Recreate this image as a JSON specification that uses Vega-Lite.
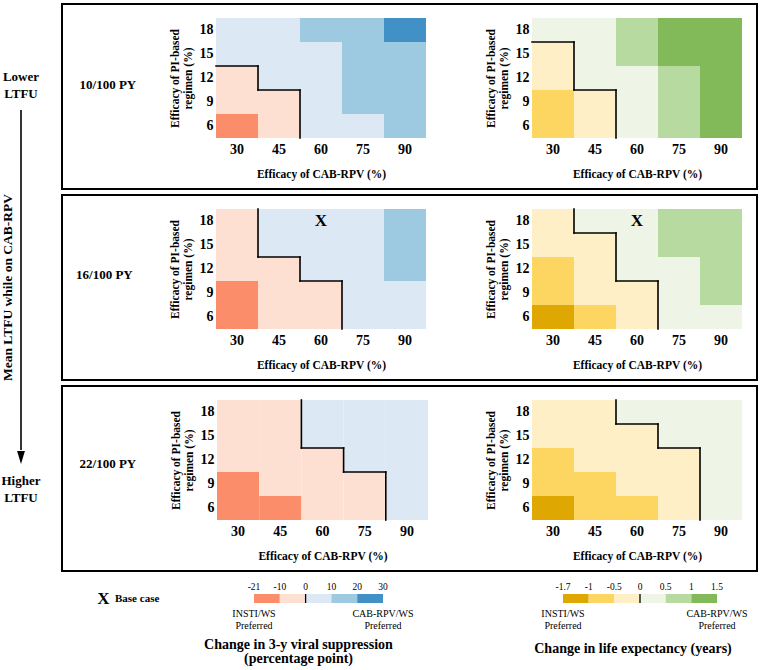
{
  "$schema": "https://vega.github.io/schema/vega-lite/v6.json",
  "padding": {"left": 0, "top": 3, "right": 0, "bottom": 0},
  "background": "white",
  "config": {
    "view": {"stroke": null},
    "font": "Liberation Serif",
    "axis": {"domain": false, "ticks": false, "grid": false, "labelFont": "Liberation Serif", "titleFont": "Liberation Serif", "labelFontWeight": "bold", "titleFontWeight": "bold", "labelColor": "black", "titleColor": "black", "labelFontSize": 14, "titleFontSize": 11.5, "labelAngle": 0, "labelOverlap": false, "labelFlush": false},
    "axisX": {"labelPadding": 4, "titlePadding": 12},
    "axisY": {"labelPadding": 3, "titlePadding": 6, "titleLineHeight": 13},
    "text": {"font": "Liberation Serif", "color": "black"},
    "title": {"font": "Liberation Serif", "color": "black"}
  },
  "datasets": {
    "cells": [
      {"ltfu":"10/100 PY","cab":30,"pi":18,"vs":"0 to 10","le":"0 to 0.5"},
      {"ltfu":"10/100 PY","cab":45,"pi":18,"vs":"0 to 10","le":"0 to 0.5"},
      {"ltfu":"10/100 PY","cab":60,"pi":18,"vs":"10 to 20","le":"0.5 to 1"},
      {"ltfu":"10/100 PY","cab":75,"pi":18,"vs":"10 to 20","le":"1 to 1.5"},
      {"ltfu":"10/100 PY","cab":90,"pi":18,"vs":"20 to 30","le":"1 to 1.5"},
      {"ltfu":"10/100 PY","cab":30,"pi":15,"vs":"0 to 10","le":"-0.5 to 0"},
      {"ltfu":"10/100 PY","cab":45,"pi":15,"vs":"0 to 10","le":"0 to 0.5"},
      {"ltfu":"10/100 PY","cab":60,"pi":15,"vs":"0 to 10","le":"0.5 to 1"},
      {"ltfu":"10/100 PY","cab":75,"pi":15,"vs":"10 to 20","le":"1 to 1.5"},
      {"ltfu":"10/100 PY","cab":90,"pi":15,"vs":"10 to 20","le":"1 to 1.5"},
      {"ltfu":"10/100 PY","cab":30,"pi":12,"vs":"-10 to 0","le":"-0.5 to 0"},
      {"ltfu":"10/100 PY","cab":45,"pi":12,"vs":"0 to 10","le":"0 to 0.5"},
      {"ltfu":"10/100 PY","cab":60,"pi":12,"vs":"0 to 10","le":"0 to 0.5"},
      {"ltfu":"10/100 PY","cab":75,"pi":12,"vs":"10 to 20","le":"0.5 to 1"},
      {"ltfu":"10/100 PY","cab":90,"pi":12,"vs":"10 to 20","le":"1 to 1.5"},
      {"ltfu":"10/100 PY","cab":30,"pi":9,"vs":"-10 to 0","le":"-1 to -0.5"},
      {"ltfu":"10/100 PY","cab":45,"pi":9,"vs":"-10 to 0","le":"-0.5 to 0"},
      {"ltfu":"10/100 PY","cab":60,"pi":9,"vs":"0 to 10","le":"0 to 0.5"},
      {"ltfu":"10/100 PY","cab":75,"pi":9,"vs":"10 to 20","le":"0.5 to 1"},
      {"ltfu":"10/100 PY","cab":90,"pi":9,"vs":"10 to 20","le":"1 to 1.5"},
      {"ltfu":"10/100 PY","cab":30,"pi":6,"vs":"-21 to -10","le":"-1 to -0.5"},
      {"ltfu":"10/100 PY","cab":45,"pi":6,"vs":"-10 to 0","le":"-0.5 to 0"},
      {"ltfu":"10/100 PY","cab":60,"pi":6,"vs":"0 to 10","le":"0 to 0.5"},
      {"ltfu":"10/100 PY","cab":75,"pi":6,"vs":"0 to 10","le":"0.5 to 1"},
      {"ltfu":"10/100 PY","cab":90,"pi":6,"vs":"10 to 20","le":"1 to 1.5"},

      {"ltfu":"16/100 PY","cab":30,"pi":18,"vs":"-10 to 0","le":"-0.5 to 0"},
      {"ltfu":"16/100 PY","cab":45,"pi":18,"vs":"0 to 10","le":"0 to 0.5"},
      {"ltfu":"16/100 PY","cab":60,"pi":18,"vs":"0 to 10","le":"0 to 0.5"},
      {"ltfu":"16/100 PY","cab":75,"pi":18,"vs":"0 to 10","le":"0.5 to 1"},
      {"ltfu":"16/100 PY","cab":90,"pi":18,"vs":"10 to 20","le":"0.5 to 1"},
      {"ltfu":"16/100 PY","cab":30,"pi":15,"vs":"-10 to 0","le":"-0.5 to 0"},
      {"ltfu":"16/100 PY","cab":45,"pi":15,"vs":"0 to 10","le":"-0.5 to 0"},
      {"ltfu":"16/100 PY","cab":60,"pi":15,"vs":"0 to 10","le":"0 to 0.5"},
      {"ltfu":"16/100 PY","cab":75,"pi":15,"vs":"0 to 10","le":"0.5 to 1"},
      {"ltfu":"16/100 PY","cab":90,"pi":15,"vs":"10 to 20","le":"0.5 to 1"},
      {"ltfu":"16/100 PY","cab":30,"pi":12,"vs":"-10 to 0","le":"-1 to -0.5"},
      {"ltfu":"16/100 PY","cab":45,"pi":12,"vs":"-10 to 0","le":"-0.5 to 0"},
      {"ltfu":"16/100 PY","cab":60,"pi":12,"vs":"0 to 10","le":"0 to 0.5"},
      {"ltfu":"16/100 PY","cab":75,"pi":12,"vs":"0 to 10","le":"0 to 0.5"},
      {"ltfu":"16/100 PY","cab":90,"pi":12,"vs":"10 to 20","le":"0.5 to 1"},
      {"ltfu":"16/100 PY","cab":30,"pi":9,"vs":"-21 to -10","le":"-1 to -0.5"},
      {"ltfu":"16/100 PY","cab":45,"pi":9,"vs":"-10 to 0","le":"-0.5 to 0"},
      {"ltfu":"16/100 PY","cab":60,"pi":9,"vs":"-10 to 0","le":"-0.5 to 0"},
      {"ltfu":"16/100 PY","cab":75,"pi":9,"vs":"0 to 10","le":"0 to 0.5"},
      {"ltfu":"16/100 PY","cab":90,"pi":9,"vs":"0 to 10","le":"0.5 to 1"},
      {"ltfu":"16/100 PY","cab":30,"pi":6,"vs":"-21 to -10","le":"-1.7 to -1"},
      {"ltfu":"16/100 PY","cab":45,"pi":6,"vs":"-10 to 0","le":"-1 to -0.5"},
      {"ltfu":"16/100 PY","cab":60,"pi":6,"vs":"-10 to 0","le":"-0.5 to 0"},
      {"ltfu":"16/100 PY","cab":75,"pi":6,"vs":"0 to 10","le":"0 to 0.5"},
      {"ltfu":"16/100 PY","cab":90,"pi":6,"vs":"0 to 10","le":"0 to 0.5"},

      {"ltfu":"22/100 PY","cab":30,"pi":18,"vs":"-10 to 0","le":"-0.5 to 0"},
      {"ltfu":"22/100 PY","cab":45,"pi":18,"vs":"-10 to 0","le":"-0.5 to 0"},
      {"ltfu":"22/100 PY","cab":60,"pi":18,"vs":"0 to 10","le":"0 to 0.5"},
      {"ltfu":"22/100 PY","cab":75,"pi":18,"vs":"0 to 10","le":"0 to 0.5"},
      {"ltfu":"22/100 PY","cab":90,"pi":18,"vs":"0 to 10","le":"0 to 0.5"},
      {"ltfu":"22/100 PY","cab":30,"pi":15,"vs":"-10 to 0","le":"-0.5 to 0"},
      {"ltfu":"22/100 PY","cab":45,"pi":15,"vs":"-10 to 0","le":"-0.5 to 0"},
      {"ltfu":"22/100 PY","cab":60,"pi":15,"vs":"0 to 10","le":"-0.5 to 0"},
      {"ltfu":"22/100 PY","cab":75,"pi":15,"vs":"0 to 10","le":"0 to 0.5"},
      {"ltfu":"22/100 PY","cab":90,"pi":15,"vs":"0 to 10","le":"0 to 0.5"},
      {"ltfu":"22/100 PY","cab":30,"pi":12,"vs":"-10 to 0","le":"-1 to -0.5"},
      {"ltfu":"22/100 PY","cab":45,"pi":12,"vs":"-10 to 0","le":"-0.5 to 0"},
      {"ltfu":"22/100 PY","cab":60,"pi":12,"vs":"-10 to 0","le":"-0.5 to 0"},
      {"ltfu":"22/100 PY","cab":75,"pi":12,"vs":"0 to 10","le":"-0.5 to 0"},
      {"ltfu":"22/100 PY","cab":90,"pi":12,"vs":"0 to 10","le":"0 to 0.5"},
      {"ltfu":"22/100 PY","cab":30,"pi":9,"vs":"-21 to -10","le":"-1 to -0.5"},
      {"ltfu":"22/100 PY","cab":45,"pi":9,"vs":"-10 to 0","le":"-1 to -0.5"},
      {"ltfu":"22/100 PY","cab":60,"pi":9,"vs":"-10 to 0","le":"-0.5 to 0"},
      {"ltfu":"22/100 PY","cab":75,"pi":9,"vs":"-10 to 0","le":"-0.5 to 0"},
      {"ltfu":"22/100 PY","cab":90,"pi":9,"vs":"0 to 10","le":"0 to 0.5"},
      {"ltfu":"22/100 PY","cab":30,"pi":6,"vs":"-21 to -10","le":"-1.7 to -1"},
      {"ltfu":"22/100 PY","cab":45,"pi":6,"vs":"-21 to -10","le":"-1 to -0.5"},
      {"ltfu":"22/100 PY","cab":60,"pi":6,"vs":"-10 to 0","le":"-1 to -0.5"},
      {"ltfu":"22/100 PY","cab":75,"pi":6,"vs":"-10 to 0","le":"-0.5 to 0"},
      {"ltfu":"22/100 PY","cab":90,"pi":6,"vs":"0 to 10","le":"0 to 0.5"}
    ],
    "steps_h": [
      {"ltfu":"10/100 PY","outcome":"vs","cab":30,"pi":12},
      {"ltfu":"10/100 PY","outcome":"vs","cab":45,"pi":9},
      {"ltfu":"10/100 PY","outcome":"le","cab":30,"pi":15},
      {"ltfu":"10/100 PY","outcome":"le","cab":45,"pi":9},
      {"ltfu":"16/100 PY","outcome":"vs","cab":45,"pi":12},
      {"ltfu":"16/100 PY","outcome":"vs","cab":60,"pi":9},
      {"ltfu":"16/100 PY","outcome":"le","cab":45,"pi":15},
      {"ltfu":"16/100 PY","outcome":"le","cab":60,"pi":9},
      {"ltfu":"22/100 PY","outcome":"vs","cab":60,"pi":12},
      {"ltfu":"22/100 PY","outcome":"vs","cab":75,"pi":9},
      {"ltfu":"22/100 PY","outcome":"le","cab":60,"pi":15},
      {"ltfu":"22/100 PY","outcome":"le","cab":75,"pi":12}
    ],
    "steps_v": [
      {"ltfu":"10/100 PY","outcome":"vs","cab":30,"pi_top":12,"pi_bottom":12},
      {"ltfu":"10/100 PY","outcome":"vs","cab":45,"pi_top":9,"pi_bottom":6},
      {"ltfu":"10/100 PY","outcome":"le","cab":30,"pi_top":15,"pi_bottom":12},
      {"ltfu":"10/100 PY","outcome":"le","cab":45,"pi_top":9,"pi_bottom":6},
      {"ltfu":"16/100 PY","outcome":"vs","cab":30,"pi_top":18,"pi_bottom":15},
      {"ltfu":"16/100 PY","outcome":"vs","cab":45,"pi_top":12,"pi_bottom":12},
      {"ltfu":"16/100 PY","outcome":"vs","cab":60,"pi_top":9,"pi_bottom":6},
      {"ltfu":"16/100 PY","outcome":"le","cab":30,"pi_top":18,"pi_bottom":18},
      {"ltfu":"16/100 PY","outcome":"le","cab":45,"pi_top":15,"pi_bottom":12},
      {"ltfu":"16/100 PY","outcome":"le","cab":60,"pi_top":9,"pi_bottom":6},
      {"ltfu":"22/100 PY","outcome":"vs","cab":45,"pi_top":18,"pi_bottom":15},
      {"ltfu":"22/100 PY","outcome":"vs","cab":60,"pi_top":12,"pi_bottom":12},
      {"ltfu":"22/100 PY","outcome":"vs","cab":75,"pi_top":9,"pi_bottom":6},
      {"ltfu":"22/100 PY","outcome":"le","cab":45,"pi_top":18,"pi_bottom":18},
      {"ltfu":"22/100 PY","outcome":"le","cab":60,"pi_top":15,"pi_bottom":15},
      {"ltfu":"22/100 PY","outcome":"le","cab":75,"pi_top":12,"pi_bottom":6}
    ],
    "base": [{"ltfu":"16/100 PY","cab":60,"pi":18,"marker":"X"}],
    "rows": [{"ltfu":"10/100 PY"},{"ltfu":"16/100 PY"},{"ltfu":"22/100 PY"}],
    "ltfu_scale": [
      {"rate":10,"label":"Lower LTFU"},
      {"rate":16,"label":"Mean LTFU while on CAB-RPV"},
      {"rate":22,"label":"Higher LTFU"}
    ],
    "vs_legend": [
      {"bin":"-21 to -10","lo":"-21","hi":"-10","note":"INSTI/WS Preferred"},
      {"bin":"-10 to 0","lo":"-10","hi":"0"},
      {"bin":"0 to 10","lo":"0","hi":"10"},
      {"bin":"10 to 20","lo":"10","hi":"20"},
      {"bin":"20 to 30","lo":"20","hi":"30","note":"CAB-RPV/WS Preferred"}
    ],
    "le_legend": [
      {"bin":"-1.7 to -1","lo":"-1.7","hi":"-1","note":"INSTI/WS Preferred"},
      {"bin":"-1 to -0.5","lo":"-1","hi":"-0.5"},
      {"bin":"-0.5 to 0","lo":"-0.5","hi":"0"},
      {"bin":"0 to 0.5","lo":"0","hi":"0.5"},
      {"bin":"0.5 to 1","lo":"0.5","hi":"1"},
      {"bin":"1 to 1.5","lo":"1","hi":"1.5","note":"CAB-RPV/WS Preferred"}
    ]
  },
  "hconcat": [
    {
      "width": 42,
      "height": 567,
      "data": {"name": "ltfu_scale"},
      "encoding": {"y": {"field": "rate", "type": "quantitative", "scale": {"domain": [7.1, 24.9], "reverse": true, "nice": false, "zero": false}, "axis": null}},
      "layer": [
        {"transform": [{"filter": "datum.rate === 10"}], "mark": {"type": "text", "fontSize": 13, "fontWeight": "bold", "lineBreak": " ", "lineHeight": 17, "dy": -19.5}, "encoding": {"text": {"field": "label"}}},
        {"transform": [{"filter": "datum.rate === 22"}], "mark": {"type": "text", "fontSize": 13, "fontWeight": "bold", "lineBreak": " ", "lineHeight": 17, "dy": 2.5}, "encoding": {"text": {"field": "label"}}},
        {"transform": [{"filter": "datum.rate === 16"}], "mark": {"type": "text", "fontSize": 13.5, "fontWeight": "bold", "angle": 270, "dy": -13}, "encoding": {"text": {"field": "label"}}},
        {"transform": [{"filter": "datum.rate === 16"}], "mark": {"type": "rule", "color": "black", "strokeWidth": 1.6}, "encoding": {"y": {"datum": 10.43}, "y2": {"datum": 21.1}}},
        {"transform": [{"filter": "datum.rate === 16"}], "mark": {"type": "point", "shape": "M-0.6,-1L0.6,-1L0,1Z", "size": 169, "filled": true, "color": "black", "opacity": 1, "strokeWidth": 0}, "encoding": {"y": {"datum": 21.34}}}
      ]
    },
    {
      "spacing": 10,
      "bounds": "full",
      "resolve": {"scale": {"color": "independent"}},
      "vconcat": [
        {
          "spacing": 6,
          "bounds": "flush",
          "resolve": {"scale": {"color": "independent"}},
          "vconcat": [
            {
              "width": 695, "height": 185,
              "view": {"stroke": "black", "strokeWidth": 2},
              "resolve": {"scale": {"x": "independent", "y": "independent", "color": "independent"}},
              "layer": [
                {"layer": [
                  {"data": {"name": "cells"}, "transform": [{"filter": "datum.ltfu === '10/100 PY'"}], "mark": {"type": "rect"},
                   "encoding": {
                     "x": {"field": "cab", "type": "ordinal", "scale": {"type": "band", "domain": [30,45,60,75,90], "range": [154,364], "paddingInner": 0, "paddingOuter": 0}, "axis": {"orient": "bottom", "offset": -51, "title": "Efficacy of CAB-RPV (%)"}},
                     "y": {"field": "pi", "type": "ordinal", "scale": {"type": "band", "domain": [18,15,12,9,6], "range": [14,134], "paddingInner": 0, "paddingOuter": 0}, "axis": {"orient": "left", "offset": -154, "title": ["Efficacy of PI-based", "regimen (%)"]}},
                     "color": {"field": "vs", "type": "ordinal", "scale": {"domain": ["-21 to -10","-10 to 0","0 to 10","10 to 20","20 to 30"], "range": ["#fc8d6b","#fde0d2","#dce9f5","#9dcae1","#4191c6"]}, "legend": null}
                   }},
                  {"data": {"name": "steps_h"}, "transform": [{"filter": "datum.ltfu === '10/100 PY' && datum.outcome === 'vs'"}], "mark": {"type": "rule", "color": "black", "strokeWidth": 1.6, "strokeCap": "square"},
                   "encoding": {"x": {"field": "cab", "type": "ordinal", "bandPosition": 0}, "x2": {"field": "cab", "bandPosition": 1}, "y": {"field": "pi", "type": "ordinal", "bandPosition": 0}}},
                  {"data": {"name": "steps_v"}, "transform": [{"filter": "datum.ltfu === '10/100 PY' && datum.outcome === 'vs'"}], "mark": {"type": "rule", "color": "black", "strokeWidth": 1.6, "strokeCap": "square"},
                   "encoding": {"x": {"field": "cab", "type": "ordinal", "bandPosition": 1}, "y": {"field": "pi_top", "type": "ordinal", "bandPosition": 0}, "y2": {"field": "pi_bottom", "bandPosition": 1}}}
                ]},
                {"layer": [
                  {"data": {"name": "cells"}, "transform": [{"filter": "datum.ltfu === '10/100 PY'"}], "mark": {"type": "rect"},
                   "encoding": {
                     "x": {"field": "cab", "type": "ordinal", "scale": {"type": "band", "domain": [30,45,60,75,90], "range": [470,680], "paddingInner": 0, "paddingOuter": 0}, "axis": {"orient": "bottom", "offset": -51, "title": "Efficacy of CAB-RPV (%)"}},
                     "y": {"field": "pi", "type": "ordinal", "scale": {"type": "band", "domain": [18,15,12,9,6], "range": [14,134], "paddingInner": 0, "paddingOuter": 0}, "axis": {"orient": "left", "offset": -470, "title": ["Efficacy of PI-based", "regimen (%)"]}},
                     "color": {"field": "le", "type": "ordinal", "scale": {"domain": ["-1.7 to -1","-1 to -0.5","-0.5 to 0","0 to 0.5","0.5 to 1","1 to 1.5"], "range": ["#dea702","#fdd661","#ffefc6","#eef5e6","#b7daa1","#82ba5a"]}, "legend": null}
                   }},
                  {"data": {"name": "steps_h"}, "transform": [{"filter": "datum.ltfu === '10/100 PY' && datum.outcome === 'le'"}], "mark": {"type": "rule", "color": "black", "strokeWidth": 1.6, "strokeCap": "square"},
                   "encoding": {"x": {"field": "cab", "type": "ordinal", "bandPosition": 0}, "x2": {"field": "cab", "bandPosition": 1}, "y": {"field": "pi", "type": "ordinal", "bandPosition": 0}}},
                  {"data": {"name": "steps_v"}, "transform": [{"filter": "datum.ltfu === '10/100 PY' && datum.outcome === 'le'"}], "mark": {"type": "rule", "color": "black", "strokeWidth": 1.6, "strokeCap": "square"},
                   "encoding": {"x": {"field": "cab", "type": "ordinal", "bandPosition": 1}, "y": {"field": "pi_top", "type": "ordinal", "bandPosition": 0}, "y2": {"field": "pi_bottom", "bandPosition": 1}}}
                ]},
                {"data": {"name": "rows"}, "transform": [{"filter": "datum.ltfu === '10/100 PY'"}], "mark": {"type": "text", "fontSize": 13, "fontWeight": "bold"},
                 "encoding": {"x": {"field": "ltfu", "type": "nominal", "scale": {"type": "point", "align": 0.066}, "axis": null}, "y": {"field": "ltfu", "type": "nominal", "scale": {"type": "point", "align": 0.44}, "axis": null}, "text": {"field": "ltfu"}}}
              ]
            },
            {
              "width": 695, "height": 185,
              "view": {"stroke": "black", "strokeWidth": 2},
              "resolve": {"scale": {"x": "independent", "y": "independent", "color": "independent"}},
              "layer": [
                {"layer": [
                  {"data": {"name": "cells"}, "transform": [{"filter": "datum.ltfu === '16/100 PY'"}], "mark": {"type": "rect"},
                   "encoding": {
                     "x": {"field": "cab", "type": "ordinal", "scale": {"type": "band", "domain": [30,45,60,75,90], "range": [154,364], "paddingInner": 0, "paddingOuter": 0}, "axis": {"orient": "bottom", "offset": -51, "title": "Efficacy of CAB-RPV (%)"}},
                     "y": {"field": "pi", "type": "ordinal", "scale": {"type": "band", "domain": [18,15,12,9,6], "range": [14,134], "paddingInner": 0, "paddingOuter": 0}, "axis": {"orient": "left", "offset": -154, "title": ["Efficacy of PI-based", "regimen (%)"]}},
                     "color": {"field": "vs", "type": "ordinal", "scale": {"domain": ["-21 to -10","-10 to 0","0 to 10","10 to 20","20 to 30"], "range": ["#fc8d6b","#fde0d2","#dce9f5","#9dcae1","#4191c6"]}, "legend": null}
                   }},
                  {"data": {"name": "steps_h"}, "transform": [{"filter": "datum.ltfu === '16/100 PY' && datum.outcome === 'vs'"}], "mark": {"type": "rule", "color": "black", "strokeWidth": 1.6, "strokeCap": "square"},
                   "encoding": {"x": {"field": "cab", "type": "ordinal", "bandPosition": 0}, "x2": {"field": "cab", "bandPosition": 1}, "y": {"field": "pi", "type": "ordinal", "bandPosition": 0}}},
                  {"data": {"name": "steps_v"}, "transform": [{"filter": "datum.ltfu === '16/100 PY' && datum.outcome === 'vs'"}], "mark": {"type": "rule", "color": "black", "strokeWidth": 1.6, "strokeCap": "square"},
                   "encoding": {"x": {"field": "cab", "type": "ordinal", "bandPosition": 1}, "y": {"field": "pi_top", "type": "ordinal", "bandPosition": 0}, "y2": {"field": "pi_bottom", "bandPosition": 1}}},
                  {"data": {"name": "base"}, "transform": [{"filter": "datum.ltfu === '16/100 PY'"}], "mark": {"type": "text", "fontSize": 17, "fontWeight": "bold"},
                   "encoding": {"x": {"field": "cab", "type": "ordinal"}, "y": {"field": "pi", "type": "ordinal"}, "text": {"field": "marker"}}}
                ]},
                {"layer": [
                  {"data": {"name": "cells"}, "transform": [{"filter": "datum.ltfu === '16/100 PY'"}], "mark": {"type": "rect"},
                   "encoding": {
                     "x": {"field": "cab", "type": "ordinal", "scale": {"type": "band", "domain": [30,45,60,75,90], "range": [470,680], "paddingInner": 0, "paddingOuter": 0}, "axis": {"orient": "bottom", "offset": -51, "title": "Efficacy of CAB-RPV (%)"}},
                     "y": {"field": "pi", "type": "ordinal", "scale": {"type": "band", "domain": [18,15,12,9,6], "range": [14,134], "paddingInner": 0, "paddingOuter": 0}, "axis": {"orient": "left", "offset": -470, "title": ["Efficacy of PI-based", "regimen (%)"]}},
                     "color": {"field": "le", "type": "ordinal", "scale": {"domain": ["-1.7 to -1","-1 to -0.5","-0.5 to 0","0 to 0.5","0.5 to 1","1 to 1.5"], "range": ["#dea702","#fdd661","#ffefc6","#eef5e6","#b7daa1","#82ba5a"]}, "legend": null}
                   }},
                  {"data": {"name": "steps_h"}, "transform": [{"filter": "datum.ltfu === '16/100 PY' && datum.outcome === 'le'"}], "mark": {"type": "rule", "color": "black", "strokeWidth": 1.6, "strokeCap": "square"},
                   "encoding": {"x": {"field": "cab", "type": "ordinal", "bandPosition": 0}, "x2": {"field": "cab", "bandPosition": 1}, "y": {"field": "pi", "type": "ordinal", "bandPosition": 0}}},
                  {"data": {"name": "steps_v"}, "transform": [{"filter": "datum.ltfu === '16/100 PY' && datum.outcome === 'le'"}], "mark": {"type": "rule", "color": "black", "strokeWidth": 1.6, "strokeCap": "square"},
                   "encoding": {"x": {"field": "cab", "type": "ordinal", "bandPosition": 1}, "y": {"field": "pi_top", "type": "ordinal", "bandPosition": 0}, "y2": {"field": "pi_bottom", "bandPosition": 1}}},
                  {"data": {"name": "base"}, "transform": [{"filter": "datum.ltfu === '16/100 PY'"}], "mark": {"type": "text", "fontSize": 17, "fontWeight": "bold"},
                   "encoding": {"x": {"field": "cab", "type": "ordinal"}, "y": {"field": "pi", "type": "ordinal"}, "text": {"field": "marker"}}}
                ]},
                {"data": {"name": "rows"}, "transform": [{"filter": "datum.ltfu === '16/100 PY'"}], "mark": {"type": "text", "fontSize": 13, "fontWeight": "bold"},
                 "encoding": {"x": {"field": "ltfu", "type": "nominal", "scale": {"type": "point", "align": 0.061}, "axis": null}, "y": {"field": "ltfu", "type": "nominal", "scale": {"type": "point", "align": 0.432}, "axis": null}, "text": {"field": "ltfu"}}}
              ]
            },
            {
              "width": 695, "height": 185,
              "view": {"stroke": "black", "strokeWidth": 2},
              "resolve": {"scale": {"x": "independent", "y": "independent", "color": "independent"}},
              "layer": [
                {"layer": [
                  {"data": {"name": "cells"}, "transform": [{"filter": "datum.ltfu === '22/100 PY'"}], "mark": {"type": "rect"},
                   "encoding": {
                     "x": {"field": "cab", "type": "ordinal", "scale": {"type": "band", "domain": [30,45,60,75,90], "range": [155,366], "paddingInner": 0, "paddingOuter": 0}, "axis": {"orient": "bottom", "offset": -51, "title": "Efficacy of CAB-RPV (%)"}},
                     "y": {"field": "pi", "type": "ordinal", "scale": {"type": "band", "domain": [18,15,12,9,6], "range": [14,134], "paddingInner": 0, "paddingOuter": 0}, "axis": {"orient": "left", "offset": -155, "title": ["Efficacy of PI-based", "regimen (%)"]}},
                     "color": {"field": "vs", "type": "ordinal", "scale": {"domain": ["-21 to -10","-10 to 0","0 to 10","10 to 20","20 to 30"], "range": ["#fc8d6b","#fde0d2","#dce9f5","#9dcae1","#4191c6"]}, "legend": null}
                   }},
                  {"data": {"name": "steps_h"}, "transform": [{"filter": "datum.ltfu === '22/100 PY' && datum.outcome === 'vs'"}], "mark": {"type": "rule", "color": "black", "strokeWidth": 1.6, "strokeCap": "square"},
                   "encoding": {"x": {"field": "cab", "type": "ordinal", "bandPosition": 0}, "x2": {"field": "cab", "bandPosition": 1}, "y": {"field": "pi", "type": "ordinal", "bandPosition": 0}}},
                  {"data": {"name": "steps_v"}, "transform": [{"filter": "datum.ltfu === '22/100 PY' && datum.outcome === 'vs'"}], "mark": {"type": "rule", "color": "black", "strokeWidth": 1.6, "strokeCap": "square"},
                   "encoding": {"x": {"field": "cab", "type": "ordinal", "bandPosition": 1}, "y": {"field": "pi_top", "type": "ordinal", "bandPosition": 0}, "y2": {"field": "pi_bottom", "bandPosition": 1}}}
                ]},
                {"layer": [
                  {"data": {"name": "cells"}, "transform": [{"filter": "datum.ltfu === '22/100 PY'"}], "mark": {"type": "rect"},
                   "encoding": {
                     "x": {"field": "cab", "type": "ordinal", "scale": {"type": "band", "domain": [30,45,60,75,90], "range": [470,680], "paddingInner": 0, "paddingOuter": 0}, "axis": {"orient": "bottom", "offset": -51, "title": "Efficacy of CAB-RPV (%)"}},
                     "y": {"field": "pi", "type": "ordinal", "scale": {"type": "band", "domain": [18,15,12,9,6], "range": [14,134], "paddingInner": 0, "paddingOuter": 0}, "axis": {"orient": "left", "offset": -470, "title": ["Efficacy of PI-based", "regimen (%)"]}},
                     "color": {"field": "le", "type": "ordinal", "scale": {"domain": ["-1.7 to -1","-1 to -0.5","-0.5 to 0","0 to 0.5","0.5 to 1","1 to 1.5"], "range": ["#dea702","#fdd661","#ffefc6","#eef5e6","#b7daa1","#82ba5a"]}, "legend": null}
                   }},
                  {"data": {"name": "steps_h"}, "transform": [{"filter": "datum.ltfu === '22/100 PY' && datum.outcome === 'le'"}], "mark": {"type": "rule", "color": "black", "strokeWidth": 1.6, "strokeCap": "square"},
                   "encoding": {"x": {"field": "cab", "type": "ordinal", "bandPosition": 0}, "x2": {"field": "cab", "bandPosition": 1}, "y": {"field": "pi", "type": "ordinal", "bandPosition": 0}}},
                  {"data": {"name": "steps_v"}, "transform": [{"filter": "datum.ltfu === '22/100 PY' && datum.outcome === 'le'"}], "mark": {"type": "rule", "color": "black", "strokeWidth": 1.6, "strokeCap": "square"},
                   "encoding": {"x": {"field": "cab", "type": "ordinal", "bandPosition": 1}, "y": {"field": "pi_top", "type": "ordinal", "bandPosition": 0}, "y2": {"field": "pi_bottom", "bandPosition": 1}}}
                ]},
                {"data": {"name": "rows"}, "transform": [{"filter": "datum.ltfu === '22/100 PY'"}], "mark": {"type": "text", "fontSize": 13, "fontWeight": "bold"},
                 "encoding": {"x": {"field": "ltfu", "type": "nominal", "scale": {"type": "point", "align": 0.066}, "axis": null}, "y": {"field": "ltfu", "type": "nominal", "scale": {"type": "point", "align": 0.42}, "axis": null}, "text": {"field": "ltfu"}}}
              ]
            }
          ]
        },
        {
          "spacing": 180,
          "bounds": "flush",
          "resolve": {"scale": {"color": "independent"}},
          "hconcat": [
            {
              "width": 12, "height": 9,
              "data": {"name": "base"},
              "layer": [
                {"mark": {"type": "text", "fontSize": 17, "fontWeight": "bold", "dx": 35.5}, "encoding": {"text": {"field": "marker"}}},
                {"mark": {"type": "text", "fontSize": 11, "fontWeight": "bold", "align": "left", "dx": 47}, "encoding": {"text": {"value": "Base case"}}}
              ]
            },
            {
              "width": 129, "height": 9,
              "data": {"name": "vs_legend"},
              "title": {"text": ["Change in 3-y viral suppression", "(percentage point)"], "orient": "bottom", "offset": 7, "fontSize": 14, "fontWeight": "bold", "lineHeight": 14, "dx": -20, "anchor": "middle"},
              "encoding": {"x": {"field": "bin", "type": "ordinal", "scale": {"type": "band", "domain": ["-21 to -10","-10 to 0","0 to 10","10 to 20","20 to 30"], "paddingInner": 0, "paddingOuter": 0}, "axis": null}},
              "layer": [
                {"mark": {"type": "rect"}, "encoding": {"color": {"field": "bin", "type": "ordinal", "scale": {"domain": ["-21 to -10","-10 to 0","0 to 10","10 to 20","20 to 30"], "range": ["#fc8d6b","#fde0d2","#dce9f5","#9dcae1","#4191c6"]}, "legend": null}}},
                {"mark": {"type": "text", "fontSize": 9.5, "dy": -11.5}, "encoding": {"x": {"field": "bin", "type": "ordinal", "bandPosition": 0}, "text": {"field": "lo"}}},
                {"transform": [{"filter": "datum.bin === '20 to 30'"}], "mark": {"type": "text", "fontSize": 9.5, "dy": -11.5}, "encoding": {"x": {"field": "bin", "type": "ordinal", "bandPosition": 1}, "text": {"field": "hi"}}},
                {"transform": [{"filter": "datum.lo === '0'"}], "mark": {"type": "rule", "color": "black", "strokeWidth": 1.3}, "encoding": {"x": {"field": "bin", "type": "ordinal", "bandPosition": 0}}},
                {"transform": [{"filter": "datum.bin === '-21 to -10'"}], "mark": {"type": "text", "fontSize": 10, "dy": 15.5, "lineBreak": " ", "lineHeight": 12}, "encoding": {"x": {"field": "bin", "type": "ordinal", "bandPosition": 0}, "text": {"field": "note"}}},
                {"transform": [{"filter": "datum.bin === '20 to 30'"}], "mark": {"type": "text", "fontSize": 10, "dy": 15.5, "lineBreak": " ", "lineHeight": 12}, "encoding": {"x": {"field": "bin", "type": "ordinal", "bandPosition": 1}, "text": {"field": "note"}}}
              ]
            },
            {
              "width": 154, "height": 9,
              "data": {"name": "le_legend"},
              "title": {"text": "Change in life expectancy (years)", "orient": "bottom", "offset": 11, "fontSize": 14, "fontWeight": "bold", "dx": -7, "anchor": "middle"},
              "encoding": {"x": {"field": "bin", "type": "ordinal", "scale": {"type": "band", "domain": ["-1.7 to -1","-1 to -0.5","-0.5 to 0","0 to 0.5","0.5 to 1","1 to 1.5"], "paddingInner": 0, "paddingOuter": 0}, "axis": null}},
              "layer": [
                {"mark": {"type": "rect"}, "encoding": {"color": {"field": "bin", "type": "ordinal", "scale": {"domain": ["-1.7 to -1","-1 to -0.5","-0.5 to 0","0 to 0.5","0.5 to 1","1 to 1.5"], "range": ["#dea702","#fdd661","#ffefc6","#eef5e6","#b7daa1","#82ba5a"]}, "legend": null}}},
                {"mark": {"type": "text", "fontSize": 9.5, "dy": -11.5}, "encoding": {"x": {"field": "bin", "type": "ordinal", "bandPosition": 0}, "text": {"field": "lo"}}},
                {"transform": [{"filter": "datum.bin === '1 to 1.5'"}], "mark": {"type": "text", "fontSize": 9.5, "dy": -11.5}, "encoding": {"x": {"field": "bin", "type": "ordinal", "bandPosition": 1}, "text": {"field": "hi"}}},
                {"transform": [{"filter": "datum.lo === '0'"}], "mark": {"type": "rule", "color": "black", "strokeWidth": 1.3}, "encoding": {"x": {"field": "bin", "type": "ordinal", "bandPosition": 0}}},
                {"transform": [{"filter": "datum.bin === '-1.7 to -1'"}], "mark": {"type": "text", "fontSize": 10, "dy": 15.5, "lineBreak": " ", "lineHeight": 12}, "encoding": {"x": {"field": "bin", "type": "ordinal", "bandPosition": 0}, "text": {"field": "note"}}},
                {"transform": [{"filter": "datum.bin === '1 to 1.5'"}], "mark": {"type": "text", "fontSize": 10, "dy": 15.5, "lineBreak": " ", "lineHeight": 12}, "encoding": {"x": {"field": "bin", "type": "ordinal", "bandPosition": 1}, "text": {"field": "note"}}}
              ]
            }
          ]
        }
      ]
    }
  ],
  "spacing": 20,
  "bounds": "flush",
  "resolve": {"scale": {"color": "independent"}}
}
